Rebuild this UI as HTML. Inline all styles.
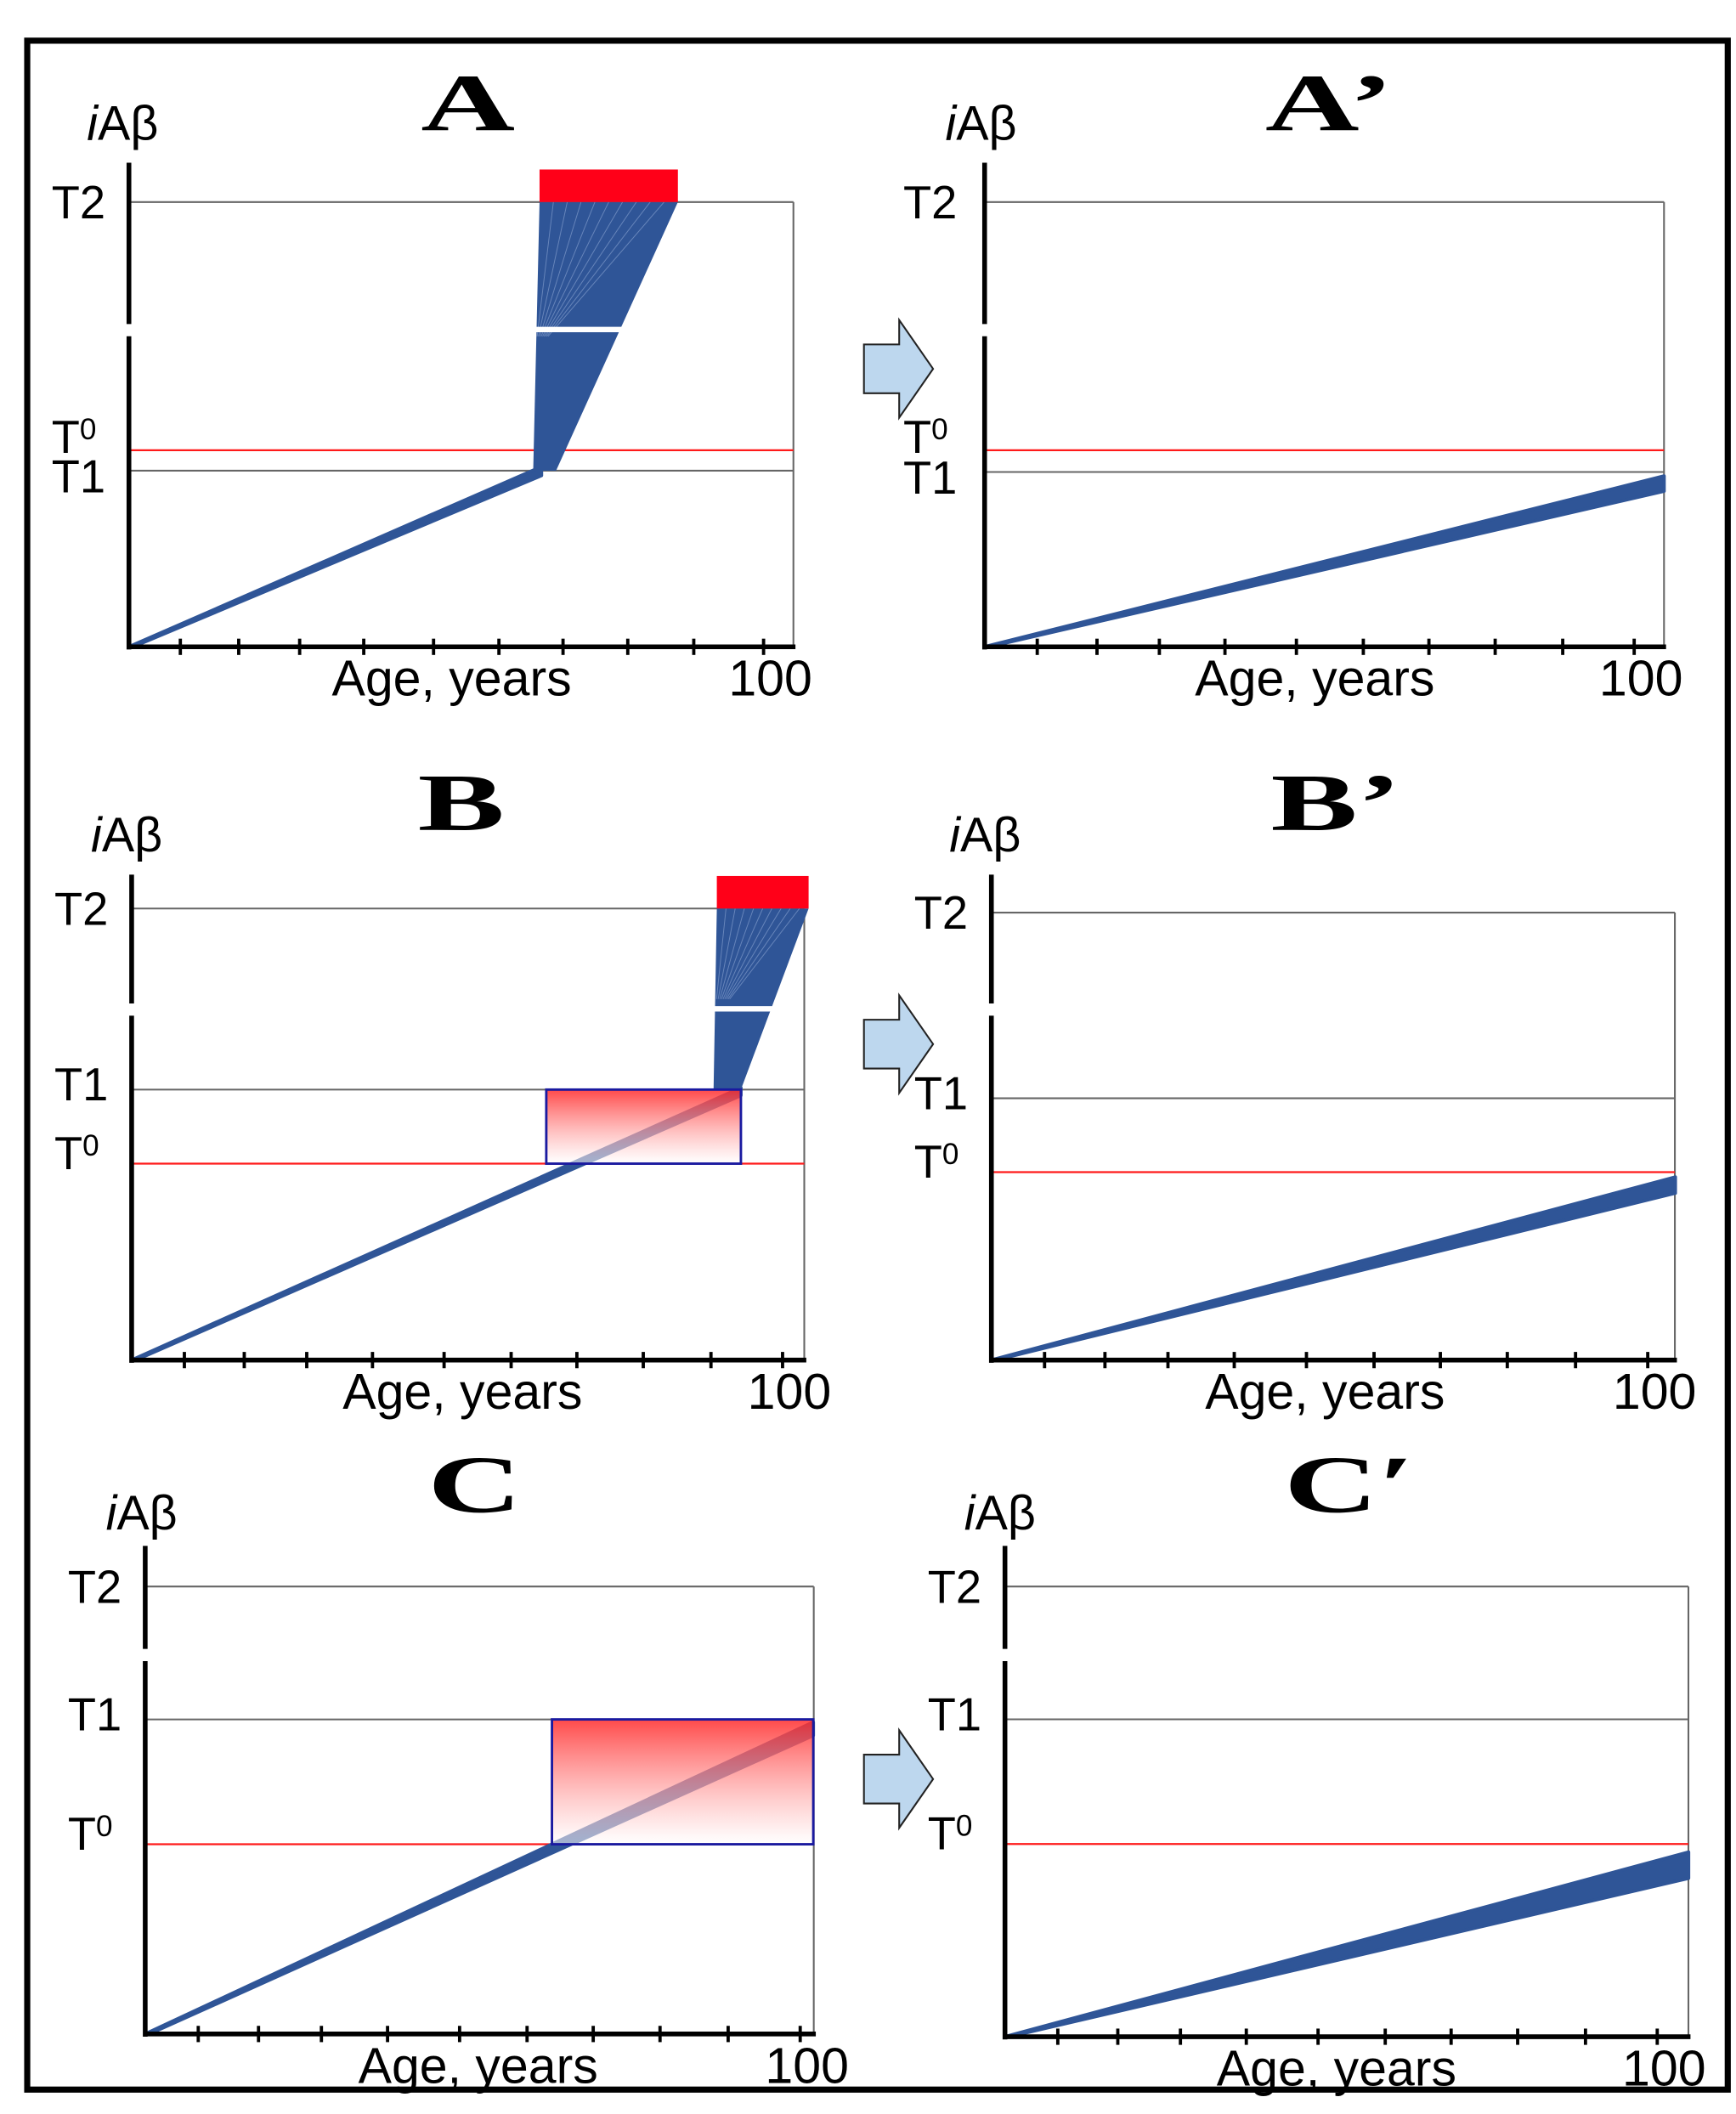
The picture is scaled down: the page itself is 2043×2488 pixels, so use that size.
<!DOCTYPE html>
<html><head><meta charset="utf-8"><style>
html,body{margin:0;padding:0;background:#fff;}
svg{display:block;}
text{font-family:"Liberation Sans",sans-serif;fill:#000;}
.ttl{font-family:"Liberation Serif",serif;font-weight:bold;font-size:60px;}
.tl{font-size:34px;}
.al{font-size:37px;}
</style></head><body>
<svg id="fig" width="2043" height="2488" viewBox="0 0 1280 1559" xmlns="http://www.w3.org/2000/svg">
<defs>
<linearGradient id="redgrad" x1="0" y1="0" x2="0" y2="1">
<stop offset="0" stop-color="#ff2a2a" stop-opacity="0.85"/>
<stop offset="1" stop-color="#ffffff" stop-opacity="0.55"/>
</linearGradient>
</defs>
<rect x="20" y="30" width="1254" height="1511" fill="none" stroke="#000" stroke-width="4.5"/>
<g id="layer"></g>
</svg>
<script>
// Panel geometry (layout, not data)
const panels = [
 {id:'A',  title:'A',  tx:345, ty:96,  ax:95,  top:120, bottom:477, yT2:149, right:585, x100:563, gap:243, iaX:64, iaY:103, labX:38},
 {id:'A2', title:'A\u2019', tx:980, ty:96, ax:726, top:120, bottom:477, yT2:149, right:1227, x100:1205, gap:243, iaX:697, iaY:103, labX:666},
 {id:'B',  title:'B',  tx:340, ty:612, ax:97,  top:645, bottom:1003, yT2:670, right:593, x100:577, gap:744, iaX:67, iaY:628, labX:40},
 {id:'B2', title:'B\u2019', tx:985, ty:612, ax:731, top:645, bottom:1003, yT2:673, right:1235, x100:1215, gap:744, iaX:700, iaY:628, labX:674},
 {id:'C',  title:'C',  tx:350, ty:1115, ax:107, top:1140, bottom:1500, yT2:1170, right:600, x100:590, gap:1220, iaX:78, iaY:1128, labX:50},
 {id:'C2', title:'C\u2032', tx:995, ty:1115, ax:741, top:1140, bottom:1502, yT2:1170, right:1245, x100:1222, gap:1220, iaX:711, iaY:1128, labX:684}
];
// Data: thresholds as % of T2 level (T2 = 100)
const t0Levels = [44.2, 44.2, 43.5, 42.0, 42.4, 42.8];
const t1Levels = [39.6, 39.3, 59.9, 58.5, 70.3, 70.5];
// Linear-growth band end (age, low level, high level)
const bandEndAge = [65.0, 104.6, 93.6, 104.2, 102.0, 104.8];
const bandEndLo  = [38.5, 35.0, 58.6, 37.3, 66.7, 35.2];
const bandEndHi  = [40.5, 38.4, 60.3, 40.9, 69.7, 41.0];
// Fans (only A, B): base ages at T1 and top ages at T2
const fanBaseStart = [63.7, null, 89.4, null, null, null];
const fanBaseEnd   = [67.3, null, 93.6, null, null, null];
const fanTopStart  = [64.7, null, 89.9, null, null, null];
const fanTopEnd    = [86.5, null, 104.0, null, null, null];
// Onset boxes (B, C): age range between T0 and T1
const boxStart = [null, null, 63.7, null, 62.1, null];
const boxEnd   = [null, null, 93.6, null, 102.0, null];
// Tick ages
const tickAges = [8.1, 17.3, 26.9, 37, 48, 58.3, 68.4, 78.6, 89, 100];

const NS='http://www.w3.org/2000/svg';
const layer=document.getElementById('layer');
function mk(tag,attrs,parent){const e=document.createElementNS(NS,tag);for(const k in attrs)e.setAttribute(k,attrs[k]);(parent||layer).appendChild(e);return e;}

panels.forEach((p,i)=>{
  const g=mk('g',{});
  
  
  const xs=a=>p.ax+a*(p.x100-p.ax)/100;
  const ys=v=>p.bottom-v*(p.bottom-p.yT2)/100;
  const yT0=ys(t0Levels[i]), yT1=ys(t1Levels[i]);
  let e=mk('line',{x1:p.ax,y1:p.yT2,x2:p.right,y2:p.yT2,stroke:'#666','stroke-width':1.3},g);
  
  e=mk('line',{x1:p.right,y1:p.yT2,x2:p.right,y2:p.bottom,stroke:'#666','stroke-width':1.3},g);
  
  e=mk('line',{x1:p.ax,y1:yT1,x2:p.right,y2:yT1,stroke:'#666','stroke-width':1.3},g);
  
  e=mk('line',{x1:p.ax,y1:yT0,x2:p.right,y2:yT0,stroke:'#ff1a1a','stroke-width':1.4},g);
  
  const ex=xs(bandEndAge[i]);
  e=mk('polygon',{points:`${p.ax},${p.bottom} ${ex},${ys(bandEndHi[i])} ${ex},${ys(bandEndLo[i])} ${p.ax+3},${p.bottom}`,fill:'#2f5597',stroke:'#2f5597','stroke-width':2.5,'stroke-linejoin':'round'},g);
  
  if(fanBaseStart[i]!==null){
    const bx1=xs(fanBaseStart[i]),bx2=xs(fanBaseEnd[i]),tx1=xs(fanTopStart[i]),tx2=xs(fanTopEnd[i]);
    e=mk('polygon',{points:`${bx1},${yT1} ${tx1},${p.yT2} ${tx2},${p.yT2} ${bx2},${yT1}`,fill:'#2f5597'},g);
    
    for(let k=1;k<10;k++){
      const f=k/10;
      const l=mk('line',{x1:bx1+(bx2-bx1)*f*0.6+(tx1-bx1)*0.4,y1:(yT1+p.yT2)/2,x2:tx1+(tx2-tx1)*f,y2:p.yT2,stroke:'#8fa8d4','stroke-width':0.6,opacity:0.6},g);
      
    }
    const gy=p.gap;
    const fx=y=>[bx1+(tx1-bx1)*(yT1-y)/(yT1-p.yT2), bx2+(tx2-bx2)*(yT1-y)/(yT1-p.yT2)];
    const [gx1,gx2]=fx(gy);
    e=mk('line',{x1:gx1-3,y1:gy,x2:gx2+3,y2:gy,stroke:'#fff','stroke-width':4},g);
    
    e=mk('rect',{x:tx1,y:p.yT2-24,width:tx2-tx1,height:24,fill:'#ff0018'},g);
    
  }
  if(boxStart[i]!==null){
    e=mk('rect',{x:xs(boxStart[i]),y:yT1,width:xs(boxEnd[i])-xs(boxStart[i]),height:yT0-yT1,fill:'url(#redgrad)',stroke:'#1a1aa0','stroke-width':1.8},g);
    
  }
  e=mk('line',{x1:p.ax,y1:p.top,x2:p.ax,y2:p.gap-4,stroke:'#000','stroke-width':3.5},g);
  
  e=mk('line',{x1:p.ax,y1:p.gap+5,x2:p.ax,y2:p.bottom+2,stroke:'#000','stroke-width':3.5},g);
  
  e=mk('line',{x1:p.ax,y1:p.bottom,x2:p.right+1.5,y2:p.bottom,stroke:'#000','stroke-width':3.5},g);
  
  tickAges.forEach(a=>{
    const t=mk('line',{x1:xs(a),y1:p.bottom-6,x2:xs(a),y2:p.bottom+6,stroke:'#000','stroke-width':2.4},g);
    
  });
  const T=(txt,x,y,cls,name,anchor)=>{const t=mk('text',{x:x,y:y,class:cls,'text-anchor':anchor||'start'},g);t.textContent=txt;return t;};
  const tt=mk('text',{x:0,y:0,class:'ttl','text-anchor':'middle',transform:`translate(${p.tx},${p.ty}) scale(1.6,1)`},g);
  tt.textContent=p.title;
  
  
  const ia=mk('text',{x:p.iaX,y:p.iaY,'font-size':36},g);
  
  const s1=mk('tspan',{'font-style':'italic'},ia);s1.textContent='i';
  const s2=mk('tspan',{},ia);s2.textContent='A\u03b2';
  T('T2',p.labX,p.yT2+12,'tl','t2-label');
  const up = t0Levels[i]>t1Levels[i];
  const t0y = up ? yT0+2 : yT0+4;
  const t1y = up ? yT1+16 : yT1+8;
  const t0=mk('text',{x:p.labX,y:t0y,class:'tl'},g);
  
  const a1=mk('tspan',{},t0);a1.textContent='T';
  const a2=mk('tspan',{'font-size':22,dy:-10},t0);a2.textContent='0';
  T('T1',p.labX,t1y,'tl','t1-label');
  T('Age, years',(p.ax+p.x100)/2+4,p.bottom+36,'al','x-axis-title','middle');
  T('100',p.x100+5,p.bottom+36,'al','x-max-label','middle');
});
const arrowY=[272,770,1312];
arrowY.forEach((cy,k)=>{
  const x0=637;
  const a=mk('polygon',{points:`${x0},${cy-18} ${x0+26},${cy-18} ${x0+26},${cy-36} ${x0+51},${cy} ${x0+26},${cy+36} ${x0+26},${cy+18} ${x0},${cy+18}`,fill:'#bdd7ee',stroke:'#222','stroke-width':1.3});
  
  
});
</script>
</body></html>
